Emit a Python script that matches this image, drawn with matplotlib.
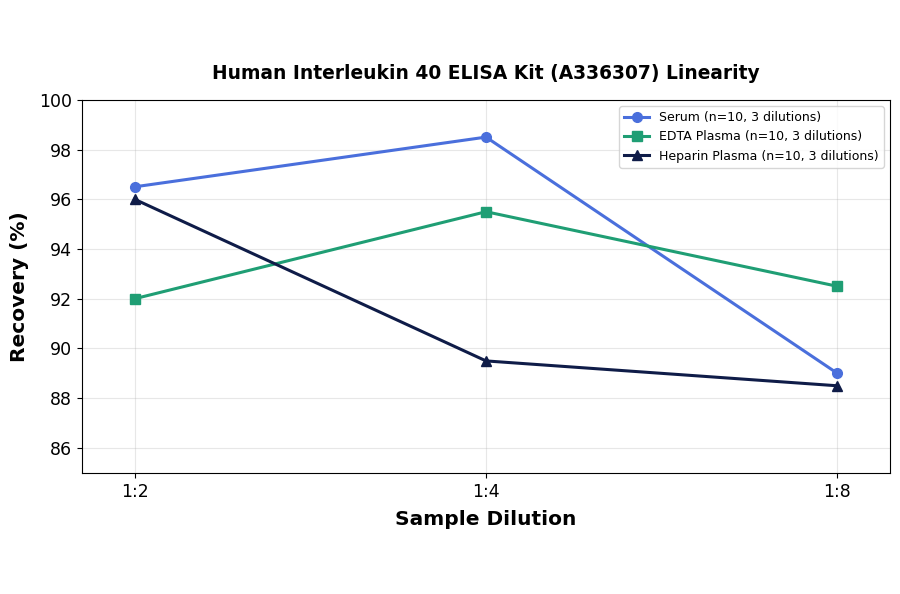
import matplotlib
matplotlib.use("Agg")
import matplotlib.pyplot as plt
import numpy as np

dilutions = ["1:2", "1:4", "1:8"]
serum = [96.5, 98.5, 89.0]
edta = [92.0, 95.5, 92.5]
heparin = [96.0, 89.5, 88.5]

fig = plt.figure(figsize=(9, 5.94), dpi=100)
ax = fig.add_axes([0.091, 0.204, 0.898, 0.628])

x = np.arange(len(dilutions))
ax.plot(x, serum, color="#4a6fdc", lw=2.2, marker="o", ms=7, label="Serum (n=10, 3 dilutions)")
ax.plot(x, edta, color="#1f9e74", lw=2.2, marker="s", ms=7, label="EDTA Plasma (n=10, 3 dilutions)")
ax.plot(x, heparin, color="#0f1c48", lw=2.2, marker="^", ms=7, label="Heparin Plasma (n=10, 3 dilutions)")

ax.set_xticks(x)
ax.set_xticklabels(dilutions, fontsize=12.5)
ax.set_xlim(-0.15, 2.15)
ax.set_ylim(85, 100)
ax.set_yticks(np.arange(86, 101, 2))
ax.tick_params(axis="y", labelsize=12.5)
ax.grid(True, alpha=0.3)
ax.set_xlabel("Sample Dilution", fontsize=14.5, fontweight="bold", labelpad=7)
ax.set_ylabel("Recovery (%)", fontsize=14.5, fontweight="bold", labelpad=7)
ax.set_title("Human Interleukin 40 ELISA Kit (A336307) Linearity", fontsize=13.4, fontweight="bold", pad=15)
ax.legend(loc="upper right", fontsize=9)

fig.savefig("out.png", dpi=100)
